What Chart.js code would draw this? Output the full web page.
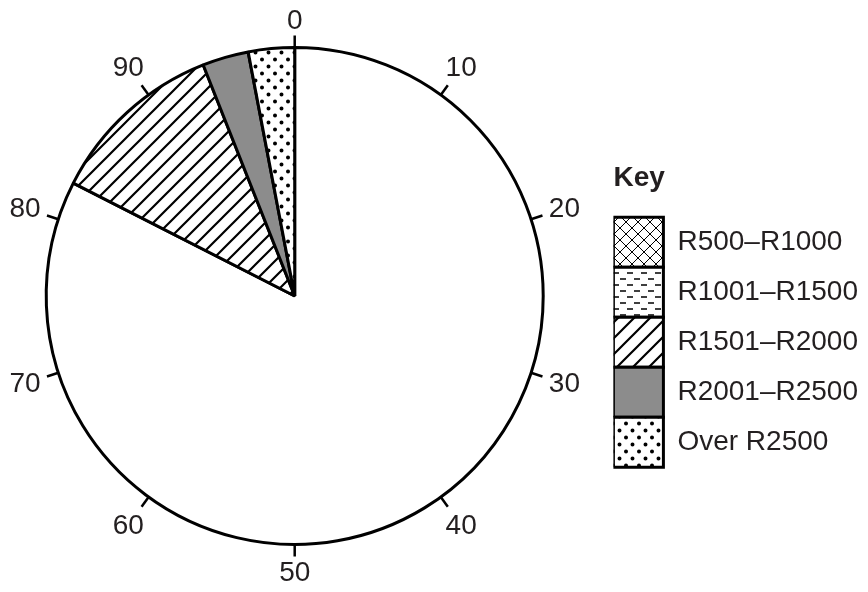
<!DOCTYPE html>
<html>
<head>
<meta charset="utf-8">
<script src="https://cdn.jsdelivr.net/npm/chart.js@4.4.1/dist/chart.umd.min.js"></script>
<style>
  html, body { margin: 0; padding: 0; background: #fff; overflow: hidden; }
  #wrap { width: 868px; height: 592px; overflow: hidden; position: relative; }
  /* canvas is a bit wider than the page so the pie can sit close to the left edge */
  #pie { position: absolute; left: -40px; top: 0; }
</style>
</head>
<body>
<div id="wrap"><canvas id="pie" width="908" height="592"></canvas></div>
<script>
// Key entries (top to bottom)
const keyLabels = ["R500–R1000", "R1001–R1500", "R1501–R2000", "R2001–R2500", "Over R2500"];

// Pie slices in %, clockwise from 0 (the big white slice is left unshaded)
const sliceLabels = ["R500–R1500 (not shaded)", "R1501–R2000", "R2001–R2500", "Over R2500"];
const sliceValues = [82.5, 11.5, 3, 3];

// Scale printed round the circle
const tickValues = [0, 10, 20, 30, 40, 50, 60, 70, 80, 90];
const tickLabels = ["0", "10", "20", "30", "40", "50", "60", "70", "80", "90"];
const scaleTotal = 100;

const fontFamily = "'Liberation Sans', Arial, Helvetica, sans-serif";
const textColor = "#231f20";

const canvas = document.getElementById("pie");
const ctx = canvas.getContext("2d");

// Small tile -> repeating canvas pattern
const makePattern = (w, h, draw) => {
  const tile = document.createElement("canvas");
  tile.width = w;
  tile.height = h;
  const g = tile.getContext("2d");
  g.fillStyle = "#fff";
  g.fillRect(0, 0, w, h);
  g.strokeStyle = "#000";
  g.fillStyle = "#000";
  draw(g, w, h);
  return ctx.createPattern(tile, "repeat");
};

const crossFill = makePattern(12, 12, (g, s) => {
  g.lineWidth = 1;
  g.beginPath();
  g.moveTo(-1, -1); g.lineTo(s + 1, s + 1);
  g.moveTo(-1, s + 1); g.lineTo(s + 1, -1);
  g.stroke();
});

const dashFill = makePattern(14, 12, (g) => {
  g.lineWidth = 1.5;
  g.beginPath();
  g.moveTo(2, 3); g.lineTo(8, 3);
  g.moveTo(9, 9); g.lineTo(15, 9);
  g.moveTo(-5, 9); g.lineTo(1, 9);
  g.stroke();
});

const hatchFill = makePattern(16, 16, (g, s) => {
  g.lineWidth = 2.2;
  g.beginPath();
  g.moveTo(-2, s + 2); g.lineTo(s + 2, -2);
  g.moveTo(-2, 2); g.lineTo(2, -2);
  g.moveTo(s - 2, s + 2); g.lineTo(s + 2, s - 2);
  g.stroke();
});

const greyFill = "#8c8c8c";

const dotFill = makePattern(13, 14, (g) => {
  g.beginPath();
  g.arc(3, 3.5, 2, 0, Math.PI * 2);
  g.arc(9.5, 10.5, 2, 0, Math.PI * 2);
  g.fill();
});

const keyFills = [crossFill, dashFill, hatchFill, greyFill, dotFill];
const sliceFills = ["#fff", hatchFill, greyFill, dotFill];

// Ticks and numbers round the rim, placed from the arc geometry
const ringScale = {
  id: "ringScale",
  afterDatasetsDraw(chart) {
    const arc = chart.getDatasetMeta(0).data[0];
    const { x, y, outerRadius } = arc.getProps(["x", "y", "outerRadius"], true);
    const c = chart.ctx;
    c.save();
    c.strokeStyle = "#000";
    c.lineWidth = 2.5;
    c.font = "28px " + fontFamily;
    c.fillStyle = textColor;
    c.textAlign = "center";
    c.textBaseline = "middle";
    tickValues.forEach((v, i) => {
      const a = -Math.PI / 2 + (v / scaleTotal) * Math.PI * 2;
      const cos = Math.cos(a);
      const sin = Math.sin(a);
      c.beginPath();
      c.moveTo(x + cos * outerRadius, y + sin * outerRadius);
      c.lineTo(x + cos * (outerRadius + 12), y + sin * (outerRadius + 12));
      c.stroke();
      const w = c.measureText(tickLabels[i]).width;
      const d = outerRadius + 17 + (Math.abs(cos) * w) / 2 + Math.abs(sin) * 10.5;
      c.fillText(tickLabels[i], x + cos * d, y + sin * d + 1);
    });
    c.restore();
  },
};

new Chart(ctx, {
  type: "pie",
  data: {
    labels: sliceLabels,
    datasets: [
      {
        data: sliceValues,
        backgroundColor: sliceFills,
        borderColor: "#000",
        borderWidth: 3,
      },
    ],
  },
  options: {
    responsive: false,
    animation: false,
    events: [],
    layout: { padding: { left: 16, right: 0, top: 46, bottom: 46 } },
    plugins: {
      tooltip: { enabled: false },
      legend: {
        position: "right",
        align: "center",
        onClick: null,
        title: {
          display: true,
          text: "Key",
          position: "start",
          color: textColor,
          font: { family: fontFamily, size: 28, weight: "bold" },
          padding: { top: 40, bottom: 19 },
        },
        labels: {
          boxWidth: 50,
          boxHeight: 50,
          padding: 0,
          color: textColor,
          font: { family: fontFamily, size: 28 },
          generateLabels: () =>
            keyLabels.map((text, i) => ({
              text: text,
              fillStyle: keyFills[i],
              strokeStyle: "#000",
              lineWidth: 3,
              hidden: false,
              index: i,
            })),
        },
      },
    },
  },
  plugins: [ringScale],
});
</script>
</body>
</html>
